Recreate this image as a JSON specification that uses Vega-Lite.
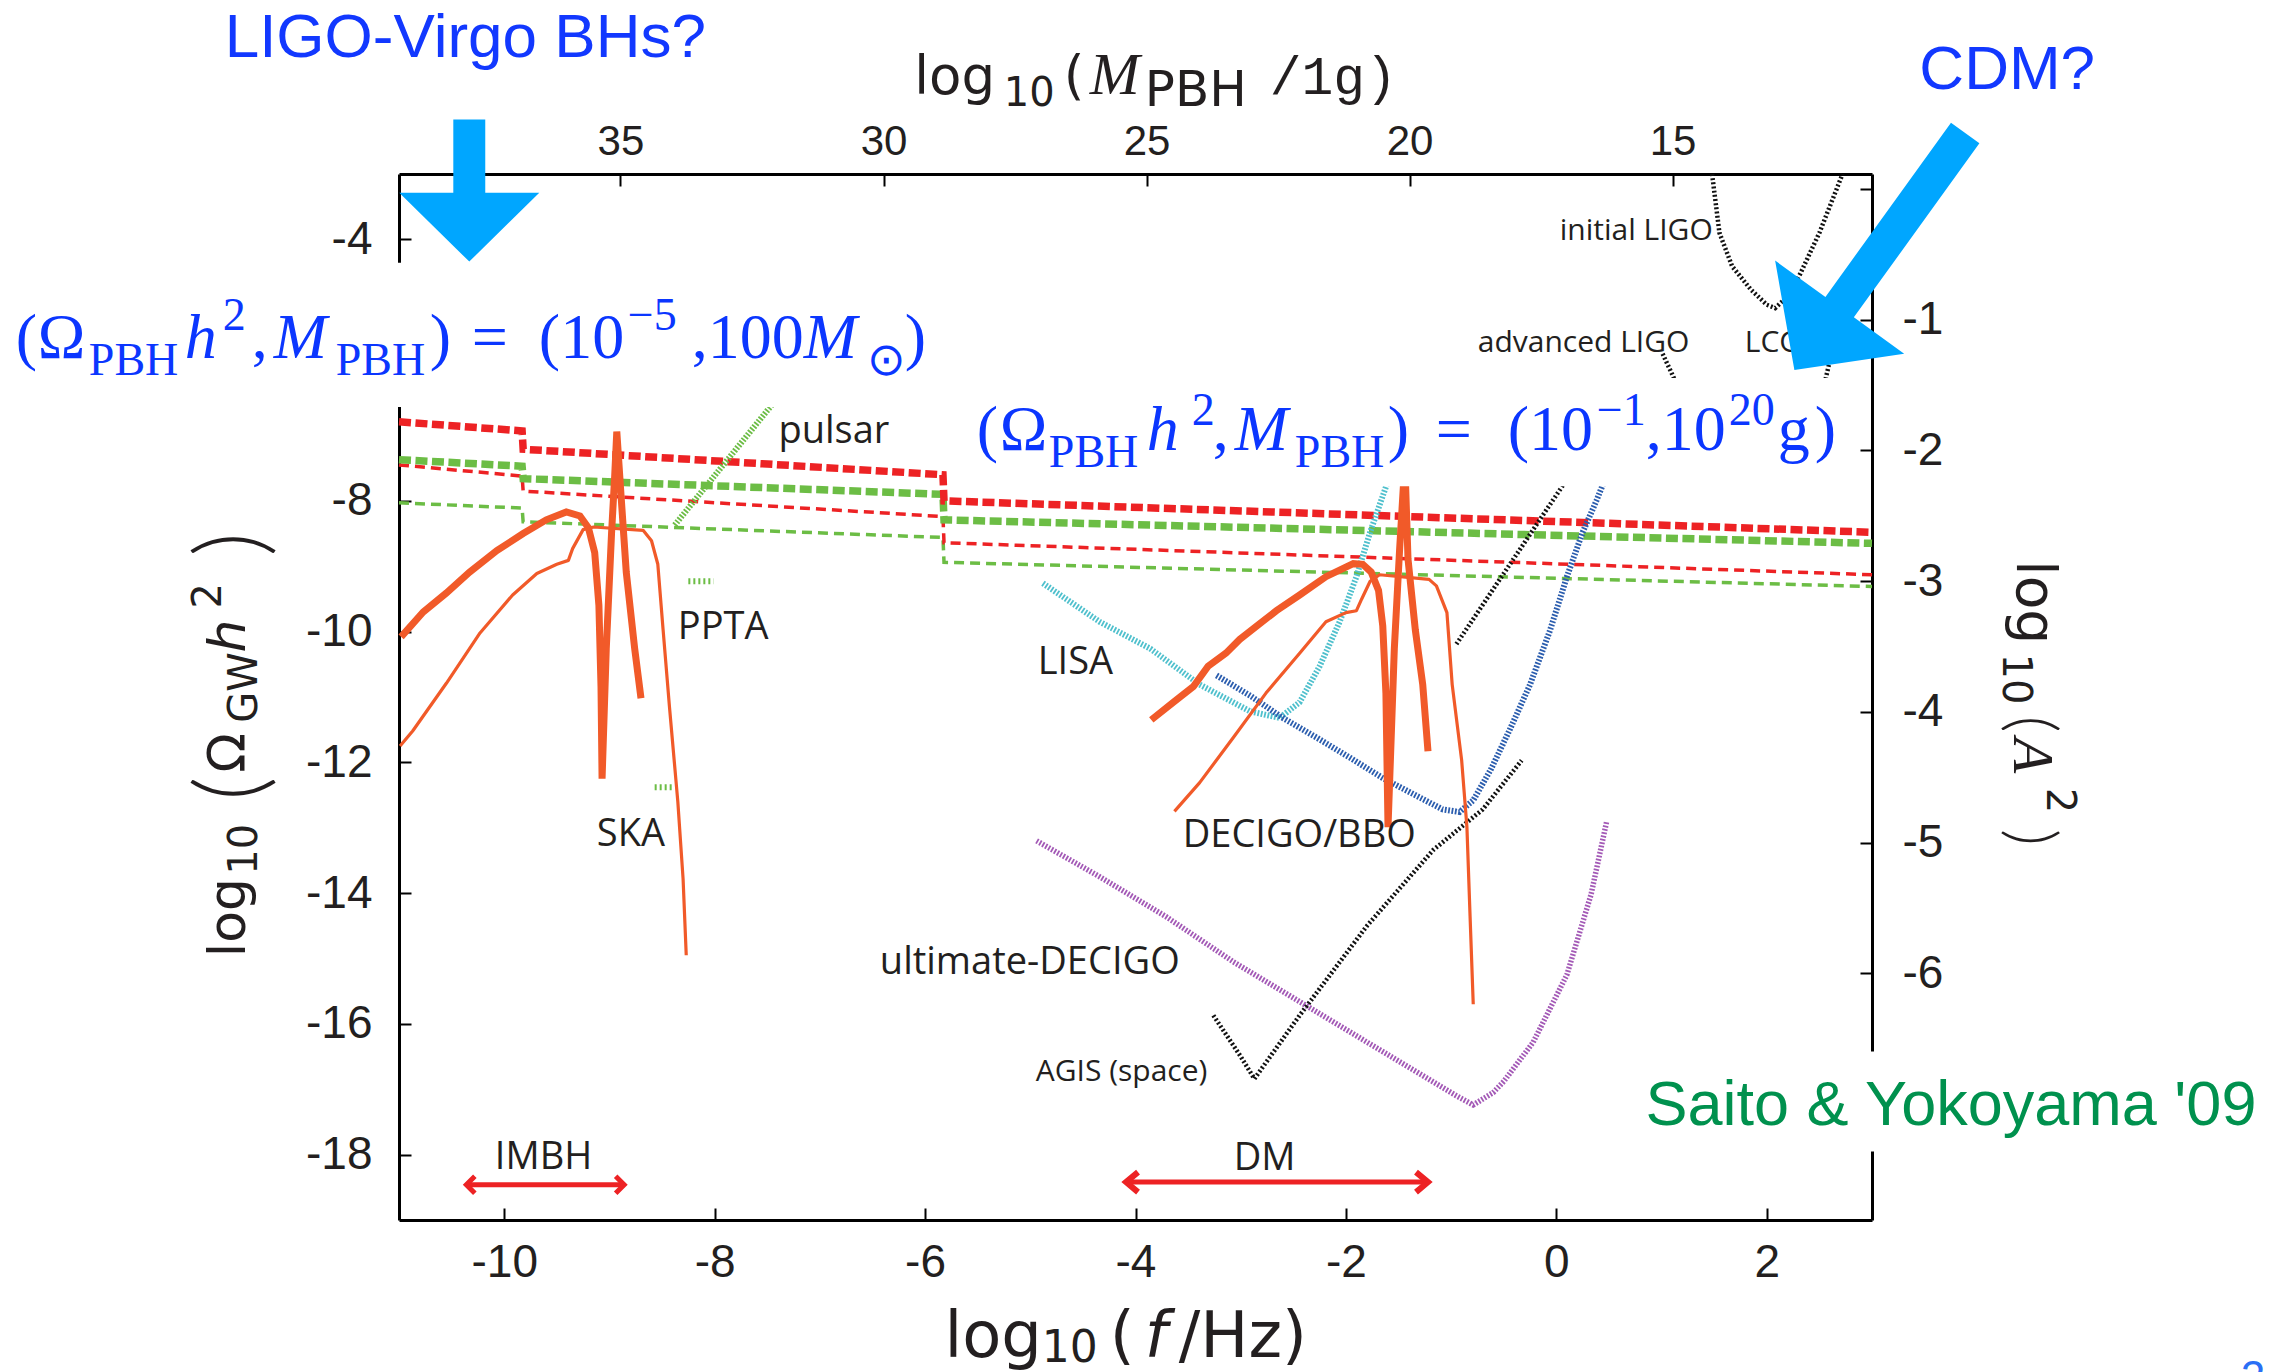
{
"$schema": "https://vega.github.io/schema/vega-lite/v6.json",
"width": 1473, "height": 1046,
"autosize": {"type": "none"},
"padding": {"left": 399, "top": 174, "right": 410, "bottom": 152},
"background": "white",
"config": {"view": {"stroke": null}},
"datasets": {
"tr": [{"f":-11,"o":-6.79},{"f":-9.83,"o":-6.93},{"f":-9.82,"o":-7.21},{"f":-5.83,"o":-7.6},{"f":-5.82,"o":-8.0},{"f":3,"o":-8.48}],
"tg": [{"f":-11,"o":-7.37},{"f":-9.83,"o":-7.47},{"f":-9.82,"o":-7.66},{"f":-5.83,"o":-7.9},{"f":-5.82,"o":-8.29},{"f":3,"o":-8.65}],
"nr": [{"f":-11,"o":-7.45},{"f":-9.83,"o":-7.62},{"f":-9.82,"o":-7.85},{"f":-5.83,"o":-8.24},{"f":-5.82,"o":-8.64},{"f":3,"o":-9.13}],
"ng": [{"f":-11,"o":-8.03},{"f":-9.83,"o":-8.11},{"f":-9.82,"o":-8.32},{"f":-5.83,"o":-8.56},{"f":-5.82,"o":-8.94},{"f":3,"o":-9.31}],
"pul": [{"f":-8.38,"o":-8.37},{"f":-7.4,"o":-6.42}],
"ppta": [{"f":-8.25,"o":-9.23},{"f":-8.01,"o":-9.23}],
"ska": [{"f":-8.57,"o":-12.38},{"f":-8.38,"o":-12.38}],
"ot1": [{"f":-10.98,"o":-10.08},{"f":-10.77,"o":-9.7},{"f":-10.55,"o":-9.41},{"f":-10.33,"o":-9.09},{"f":-10.07,"o":-8.76},{"f":-9.82,"o":-8.5},{"f":-9.6,"o":-8.29},{"f":-9.41,"o":-8.17},{"f":-9.28,"o":-8.23},{"f":-9.2,"o":-8.41},{"f":-9.14,"o":-8.79},{"f":-9.1,"o":-9.6},{"f":-9.08,"o":-10.84},{"f":-9.07,"o":-12.25},{"f":-9.03,"o":-10.26},{"f":-8.98,"o":-8.5},{"f":-8.95,"o":-7.62},{"f":-8.93,"o":-6.94},{"f":-8.89,"o":-7.91},{"f":-8.84,"o":-9.09},{"f":-8.76,"o":-10.26},{"f":-8.7,"o":-11.02}],
"on1": [{"f":-10.99,"o":-11.75},{"f":-10.87,"o":-11.52},{"f":-10.55,"o":-10.79},{"f":-10.23,"o":-10.02},{"f":-9.92,"o":-9.44},{"f":-9.69,"o":-9.11},{"f":-9.5,"o":-8.97},{"f":-9.39,"o":-8.91},{"f":-9.35,"o":-8.73},{"f":-9.25,"o":-8.44},{"f":-9.15,"o":-8.4},{"f":-8.68,"o":-8.45},{"f":-8.6,"o":-8.61},{"f":-8.54,"o":-8.97},{"f":-8.49,"o":-9.97},{"f":-8.43,"o":-11.14},{"f":-8.35,"o":-12.6},{"f":-8.3,"o":-13.78},{"f":-8.27,"o":-14.95}],
"ot2": [{"f":-3.85,"o":-11.35},{"f":-3.64,"o":-11.08},{"f":-3.45,"o":-10.84},{"f":-3.31,"o":-10.53},{"f":-3.14,"o":-10.33},{"f":-3.01,"o":-10.12},{"f":-2.82,"o":-9.88},{"f":-2.66,"o":-9.68},{"f":-2.44,"o":-9.44},{"f":-2.19,"o":-9.16},{"f":-1.93,"o":-8.96},{"f":-1.84,"o":-8.97},{"f":-1.76,"o":-9.09},{"f":-1.69,"o":-9.37},{"f":-1.65,"o":-9.91},{"f":-1.62,"o":-10.94},{"f":-1.6,"o":-12.99},{"f":-1.54,"o":-10.26},{"f":-1.49,"o":-8.75},{"f":-1.44,"o":-7.4},{"f":-1.41,"o":-8.89},{"f":-1.34,"o":-9.98},{"f":-1.27,"o":-10.81},{"f":-1.22,"o":-11.83}],
"on2": [{"f":-3.63,"o":-12.75},{"f":-3.39,"o":-12.31},{"f":-3.07,"o":-11.62},{"f":-2.76,"o":-10.94},{"f":-2.44,"o":-10.33},{"f":-2.19,"o":-9.85},{"f":-2.0,"o":-9.71},{"f":-1.9,"o":-9.68},{"f":-1.85,"o":-9.5},{"f":-1.77,"o":-9.23},{"f":-1.68,"o":-9.13},{"f":-1.21,"o":-9.2},{"f":-1.14,"o":-9.3},{"f":-1.04,"o":-9.71},{"f":-0.99,"o":-10.81},{"f":-0.9,"o":-11.97},{"f":-0.85,"o":-12.99},{"f":-0.82,"o":-14.36},{"f":-0.79,"o":-15.7}],
"lisa": [{"f":-4.88,"o":-9.26},{"f":-4.34,"o":-9.85},{"f":-3.86,"o":-10.26},{"f":-3.39,"o":-10.81},{"f":-2.91,"o":-11.22},{"f":-2.63,"o":-11.32},{"f":-2.44,"o":-11.08},{"f":-2.25,"o":-10.53},{"f":-2.06,"o":-9.85},{"f":-1.9,"o":-9.16},{"f":-1.77,"o":-8.48},{"f":-1.58,"o":-7.6}],
"decigo": [{"f":-3.23,"o":-10.67},{"f":-2.91,"o":-10.98},{"f":-2.6,"o":-11.32},{"f":-2.28,"o":-11.62},{"f":-1.96,"o":-11.93},{"f":-1.65,"o":-12.24},{"f":-1.33,"o":-12.51},{"f":-1.08,"o":-12.72},{"f":-0.92,"o":-12.76},{"f":-0.79,"o":-12.58},{"f":-0.62,"o":-12.1},{"f":-0.44,"o":-11.49},{"f":-0.25,"o":-10.81},{"f":-0.06,"o":-9.98},{"f":0.1,"o":-9.16},{"f":0.25,"o":-8.48},{"f":0.38,"o":-8.0},{"f":0.48,"o":-7.6}],
"udecigo": [{"f":-4.94,"o":-13.2},{"f":-4.34,"o":-13.75},{"f":-3.71,"o":-14.36},{"f":-3.07,"o":-15.05},{"f":-2.44,"o":-15.66},{"f":-1.8,"o":-16.28},{"f":-1.23,"o":-16.83},{"f":-0.95,"o":-17.1},{"f":-0.79,"o":-17.24},{"f":-0.6,"o":-17.05},{"f":-0.5,"o":-16.88},{"f":-0.22,"o":-16.28},{"f":0.1,"o":-15.25},{"f":0.33,"o":-14.02},{"f":0.48,"o":-12.89}],
"bl1": [{"f":-0.95,"o":-10.19},{"f":0.13,"o":-7.6}],
"agis": [{"f":-3.26,"o":-15.87},{"f":-3.0,"o":-16.5},{"f":-2.87,"o":-16.84},{"f":-2.44,"o":-15.87},{"f":-1.8,"o":-14.5},{"f":-1.17,"o":-13.34},{"f":-0.7,"o":-12.72},{"f":-0.33,"o":-11.97}],
"iligo": [{"f":1.48,"o":-3.0},{"f":1.55,"o":-3.9},{"f":1.67,"o":-4.41},{"f":1.85,"o":-4.77},{"f":2.0,"o":-5.0},{"f":2.08,"o":-5.05},{"f":2.2,"o":-4.87},{"f":2.32,"o":-4.52},{"f":2.5,"o":-3.9},{"f":2.72,"o":-3.0}],
"aligo": [{"f":1.01,"o":-5.75},{"f":1.14,"o":-6.2}],
"lcgt": [{"f":2.55,"o":-6.2},{"f":2.65,"o":-5.5}],
"redarrow": [{"f":-10.36,"f2":-8.86,"o":-18.46},{"f":-4.09,"f2":-1.22,"o":-18.42}],
"headRs": [{"f":-8.86,"o":-18.46}],
"headLs": [{"f":-10.36,"o":-18.46}],
"headRb": [{"f":-1.22,"o":-18.42}],
"headLb": [{"f":-4.09,"o":-18.42}],
"ligoarrow": [{"f":-10.332,"o":-3.254}],
"cdmarrow": [{"f":3.074,"o":-4.185}],
"boxes": [{"f":-14.8,"f2":-5.86,"o":-4.358,"o2":-6.565},{"f":-5.623,"f2":2.788,"o":-6.121,"o2":-7.776},{"f":0.79,"f2":6.9,"o":-16.421,"o2":-17.954}],
"lab38": [{"t":"pulsar","f":-7.394,"o":-7.117},{"t":"PPTA","f":-8.35,"o":-10.106},{"t":"SKA","f":-9.12,"o":-13.279},{"t":"LISA","f":-4.929,"o":-10.643},{"t":"DECIGO/BBO","f":-3.551,"o":-13.294},{"t":"ultimate-DECIGO","f":-6.43,"o":-15.241},{"t":"IMBH","f":-10.089,"o":-18.215},{"t":"DM","f":-3.066,"o":-18.231}],
"lab30": [{"t":"initial LIGO","f":0.032,"o":-4.006},{"t":"advanced LIGO","f":-0.747,"o":-5.722},{"t":"LCGT","f":1.791,"o":-5.722},{"t":"AGIS (space)","f":-4.948,"o":-16.881}],
"fmain": [{"t":"(","f":-14.642,"o":-5.814},{"t":"Ω","f":-14.433,"o":-5.814},{"t":",","f":-12.399,"o":-5.814},{"t":")","f":-10.708,"o":-5.814},{"t":"=","f":-10.308,"o":-5.814},{"t":"(10","f":-9.671,"o":-5.814},{"t":",100","f":-8.217,"o":-5.814},{"t":")","f":-6.193,"o":-5.814},{"t":"(","f":-5.508,"o":-7.224},{"t":"Ω","f":-5.29,"o":-7.224},{"t":",","f":-3.265,"o":-7.224},{"t":")","f":-1.602,"o":-7.224},{"t":"=","f":-1.146,"o":-7.224},{"t":"(10","f":-0.462,"o":-7.224},{"t":",10","f":0.85,"o":-7.224},{"t":"g","f":2.105,"o":-7.224},{"t":")","f":2.456,"o":-7.224}],
"fital": [{"t":"h","f":-13.036,"o":-5.814},{"t":"M","f":-12.19,"o":-5.814},{"t":"M","f":-7.153,"o":-5.814},{"t":"h","f":-3.893,"o":-7.224},{"t":"M","f":-3.056,"o":-7.224}],
"fsub": [{"t":"PBH","f":-13.948,"o":-6.075},{"t":"PBH","f":-11.601,"o":-6.075},{"t":"⊙","f":-6.554,"o":-6.075},{"t":"PBH","f":-4.824,"o":-7.485},{"t":"PBH","f":-2.486,"o":-7.485}],
"fsup": [{"t":"2","f":-12.675,"o":-5.385},{"t":"−5","f":-8.825,"o":-5.385},{"t":"2","f":-3.465,"o":-6.841},{"t":"−1","f":0.385,"o":-6.841},{"t":"20","f":1.639,"o":-6.841}],
"blue62": [{"t":"LIGO-Virgo BHs?","f":-10.37,"o":-1.216},{"t":"CDM?","f":4.285,"o":-1.706}],
"saito": [{"t":"Saito & Yokoyama '09","f":0.847,"o":-17.54}],
"page": [{"t":"2","f":6.505,"o":-21.63}],
"tt_top": [{"t":"log","f":-6.103,"o":-1.783},{"t":"(","f":-4.682,"o":-1.783}],
"tt_sub": [{"t":"10","f":-5.252,"o":-1.962}],
"tt_subP": [{"t":"PBH","f":-3.911,"o":-1.967}],
"tt_topM": [{"t":"M","f":-4.435,"o":-1.783}],
"tt_mono": [{"t":"/1g)","f":-2.724,"o":-1.783}],
"tt_bot": [{"t":"log","f":-5.816,"o":-21.096},{"t":"(","f":-4.245,"o":-21.096},{"t":"/Hz)","f":-3.589,"o":-21.096}],
"tt_botsub": [{"t":"10","f":-4.891,"o":-21.173}],
"tt_botf": [{"t":"f","f":-3.912,"o":-21.096}],
"tt_left": [{"t":"log","f":-12.465,"o":-14.98},{"t":"Ω","f":-12.465,"o":-12.16}],
"tt_lefth": [{"t":"h","f":-12.465,"o":-10.321}],
"tt_leftsub": [{"t":"10","f":-12.351,"o":-13.719},{"t":"GW","f":-12.351,"o":-11.393},{"t":"2","f":-12.694,"o":-9.647}],
"tt_leftparen": [{"t":"(","f":-12.294,"o":-12.589},{"t":")","f":-12.294,"o":-8.849}],
"tt_right": [{"t":"log","f":4.376,"o":-8.91}],
"tt_rightsub": [{"t":"10","f":4.242,"o":-10.336},{"t":"2","f":4.661,"o":-12.39}],
"tt_rightA": [{"t":"A","f":4.347,"o":-11.624}],
"tt_rightparen": [{"t":"(","f":4.315,"o":-11.287},{"t":")","f":4.315,"o":-13.02}],
"ax2": [{"m":39.21,"a":0.113},{"m":11.21,"a":-7.887}]
},
"layer": [
{
"encoding": {
"x": {"field": "f", "type": "quantitative", "scale": {"domain": [-11, 3], "nice": false, "zero": false},
 "axis": {"orient": "bottom", "values": [-10,-8,-6,-4,-2,0,2], "title": null, "grid": false, "labelExpr": "toString(datum.value)", "labelFont": "Liberation Sans", "labelFontSize": 46, "labelColor": "#231F20", "labelPadding": 32, "labelOverlap": false, "labelFlush": false, "tickSize": -12, "tickWidth": 2, "tickColor": "#000", "domainColor": "#000", "domainWidth": 3}},
"y": {"field": "o", "type": "quantitative", "scale": {"domain": [-19, -3], "nice": false, "zero": false},
 "axis": {"orient": "left", "values": [-18,-16,-14,-12,-10,-8,-6,-4], "title": null, "grid": false, "labelExpr": "toString(datum.value)", "labelFont": "Liberation Sans", "labelFontSize": 46, "labelColor": "#231F20", "labelPadding": 39, "labelOverlap": false, "labelFlush": false, "tickSize": -12, "tickWidth": 2, "tickColor": "#000", "domainColor": "#000", "domainWidth": 3}}
},
"layer": [
{"data": {"name": "ng"}, "mark": {"type": "line", "color": "#6CBD45", "strokeWidth": 3.5, "strokeDash": [10, 6]}},
{"data": {"name": "nr"}, "mark": {"type": "line", "color": "#ED2224", "strokeWidth": 3.5, "strokeDash": [10, 6]}},
{"data": {"name": "tg"}, "mark": {"type": "line", "color": "#6CBD45", "strokeWidth": 7.5, "strokeDash": [12, 4.5]}},
{"data": {"name": "tr"}, "mark": {"type": "line", "color": "#ED2224", "strokeWidth": 7.5, "strokeDash": [12, 4.5]}},
{"data": {"name": "pul"}, "mark": {"type": "line", "color": "#6CBD45", "strokeWidth": 6, "strokeDash": [1.8, 1.6]}},
{"data": {"name": "ppta"}, "mark": {"type": "line", "color": "#6CBD45", "strokeWidth": 6, "strokeDash": [2, 3]}},
{"data": {"name": "ska"}, "mark": {"type": "line", "color": "#6CBD45", "strokeWidth": 6, "strokeDash": [2, 3]}},
{"data": {"name": "lisa"}, "mark": {"type": "line", "color": "#4FC0CD", "strokeWidth": 6, "strokeDash": [1.8, 1.6]}},
{"data": {"name": "decigo"}, "mark": {"type": "line", "color": "#2B5DAE", "strokeWidth": 6, "strokeDash": [1.8, 1.6]}},
{"data": {"name": "udecigo"}, "mark": {"type": "line", "color": "#A359B6", "strokeWidth": 5.5, "strokeDash": [1.8, 1.6]}},
{"data": {"name": "bl1"}, "mark": {"type": "line", "color": "#111111", "strokeWidth": 4.5, "strokeDash": [2, 2.2]}},
{"data": {"name": "agis"}, "mark": {"type": "line", "color": "#111111", "strokeWidth": 4.5, "strokeDash": [2, 2.2]}},
{"data": {"name": "iligo"}, "mark": {"type": "line", "color": "#111111", "strokeWidth": 4.5, "strokeDash": [2, 2.2]}},
{"data": {"name": "aligo"}, "mark": {"type": "line", "color": "#111111", "strokeWidth": 4.5, "strokeDash": [2, 2.2]}},
{"data": {"name": "lcgt"}, "mark": {"type": "line", "color": "#111111", "strokeWidth": 4.5, "strokeDash": [2, 2.2]}},
{"data": {"name": "on1"}, "mark": {"type": "line", "color": "#F15A29", "strokeWidth": 3.2, "strokeJoin": "round"}},
{"data": {"name": "on2"}, "mark": {"type": "line", "color": "#F15A29", "strokeWidth": 3.2, "strokeJoin": "round"}},
{"data": {"name": "ot1"}, "mark": {"type": "line", "color": "#F15A29", "strokeWidth": 7}},
{"data": {"name": "ot2"}, "mark": {"type": "line", "color": "#F15A29", "strokeWidth": 7}},
{"data": {"name": "redarrow"}, "mark": {"type": "rule", "color": "#ED2224", "strokeWidth": 5}, "encoding": {"x2": {"field": "f2"}}},
{"data": {"name": "headRs"}, "mark": {"type": "point", "shape": "M-1,-1L0,0L-1,1", "size": 289, "filled": false, "stroke": "#ED2224", "strokeWidth": 5, "opacity": 1}},
{"data": {"name": "headLs"}, "mark": {"type": "point", "shape": "M1,-1L0,0L1,1", "size": 289, "filled": false, "stroke": "#ED2224", "strokeWidth": 5, "opacity": 1}},
{"data": {"name": "headRb"}, "mark": {"type": "point", "shape": "M-1.2,-1L0,0L-1.2,1", "size": 400, "filled": false, "stroke": "#ED2224", "strokeWidth": 6, "opacity": 1}},
{"data": {"name": "headLb"}, "mark": {"type": "point", "shape": "M1.2,-1L0,0L1.2,1", "size": 400, "filled": false, "stroke": "#ED2224", "strokeWidth": 6, "opacity": 1}},
{"data": {"name": "lab38"}, "mark": {"type": "text", "font": "Open Sans", "fontSize": 38, "align": "left", "baseline": "alphabetic", "color": "#231F20"}, "encoding": {"text": {"field": "t"}}},
{"data": {"name": "lab30"}, "mark": {"type": "text", "font": "Open Sans", "fontSize": 30, "align": "left", "baseline": "alphabetic", "color": "#231F20"}, "encoding": {"text": {"field": "t"}}},
{"data": {"name": "boxes"}, "mark": {"type": "rect", "color": "white", "opacity": 1}, "encoding": {"x2": {"field": "f2"}, "y2": {"field": "o2"}}},
{"data": {"name": "fmain"}, "mark": {"type": "text", "font": "Liberation Serif", "fontSize": 64, "align": "left", "baseline": "alphabetic", "color": "#0B36FF"}, "encoding": {"text": {"field": "t"}}},
{"data": {"name": "fital"}, "mark": {"type": "text", "font": "Liberation Serif", "fontStyle": "italic", "fontSize": 64, "align": "left", "baseline": "alphabetic", "color": "#0B36FF"}, "encoding": {"text": {"field": "t"}}},
{"data": {"name": "fsub"}, "mark": {"type": "text", "font": "Liberation Serif", "fontSize": 46, "align": "left", "baseline": "alphabetic", "color": "#0B36FF"}, "encoding": {"text": {"field": "t"}}},
{"data": {"name": "fsup"}, "mark": {"type": "text", "font": "Liberation Serif", "fontSize": 46, "align": "left", "baseline": "alphabetic", "color": "#0B36FF"}, "encoding": {"text": {"field": "t"}}},
{"data": {"name": "blue62"}, "mark": {"type": "text", "font": "Liberation Sans", "fontSize": 62, "align": "center", "baseline": "alphabetic", "color": "#1238FF"}, "encoding": {"text": {"field": "t"}}},
{"data": {"name": "saito"}, "mark": {"type": "text", "font": "Liberation Sans", "fontSize": 63, "align": "left", "baseline": "alphabetic", "color": "#00914E"}, "encoding": {"text": {"field": "t"}}},
{"data": {"name": "page"}, "mark": {"type": "text", "font": "Liberation Sans", "fontSize": 44, "align": "left", "baseline": "alphabetic", "color": "#2A6FF5"}, "encoding": {"text": {"field": "t"}}},
{"data": {"name": "ligoarrow"}, "mark": {"type": "point", "shape": "M-0.225,-1L0.225,-1L0.225,0.03L0.986,0.03L0,1L-0.986,0.03L-0.225,0.03Z", "size": 20164, "filled": true, "color": "#00A6FF", "opacity": 1, "strokeWidth": 0}},
{"data": {"name": "cdmarrow"}, "mark": {"type": "point", "shape": "M-0.12,-1L0.12,-1L0.12,0.47L0.545,0.47L0,1L-0.545,0.47L-0.12,0.47Z", "size": 85264, "angle": 35.8, "filled": true, "color": "#00A6FF", "opacity": 1, "strokeWidth": 0}},
{"data": {"name": "tt_top"}, "mark": {"type": "text", "font": "DejaVu Sans", "fontSize": 53, "align": "left", "baseline": "alphabetic", "color": "#231F20"}, "encoding": {"text": {"field": "t"}}},
{"data": {"name": "tt_sub"}, "mark": {"type": "text", "font": "DejaVu Sans", "fontSize": 40, "align": "left", "baseline": "alphabetic", "color": "#231F20"}, "encoding": {"text": {"field": "t"}}},
{"data": {"name": "tt_subP"}, "mark": {"type": "text", "font": "DejaVu Sans", "fontSize": 50, "align": "left", "baseline": "alphabetic", "color": "#231F20"}, "encoding": {"text": {"field": "t"}}},
{"data": {"name": "tt_topM"}, "mark": {"type": "text", "font": "Liberation Serif", "fontStyle": "italic", "fontSize": 60, "align": "left", "baseline": "alphabetic", "color": "#231F20"}, "encoding": {"text": {"field": "t"}}},
{"data": {"name": "tt_mono"}, "mark": {"type": "text", "font": "Liberation Mono", "fontSize": 53, "align": "left", "baseline": "alphabetic", "color": "#231F20"}, "encoding": {"text": {"field": "t"}}},
{"data": {"name": "tt_bot"}, "mark": {"type": "text", "font": "DejaVu Sans", "fontSize": 64, "align": "left", "baseline": "alphabetic", "color": "#231F20"}, "encoding": {"text": {"field": "t"}}},
{"data": {"name": "tt_botsub"}, "mark": {"type": "text", "font": "DejaVu Sans", "fontSize": 44, "align": "left", "baseline": "alphabetic", "color": "#231F20"}, "encoding": {"text": {"field": "t"}}},
{"data": {"name": "tt_botf"}, "mark": {"type": "text", "font": "DejaVu Sans", "fontStyle": "italic", "fontSize": 64, "align": "left", "baseline": "alphabetic", "color": "#231F20"}, "encoding": {"text": {"field": "t"}}},
{"data": {"name": "tt_left"}, "mark": {"type": "text", "font": "DejaVu Sans", "fontSize": 52, "angle": 270, "align": "left", "baseline": "alphabetic", "color": "#231F20"}, "encoding": {"text": {"field": "t"}}},
{"data": {"name": "tt_lefth"}, "mark": {"type": "text", "font": "DejaVu Sans", "fontStyle": "italic", "fontSize": 52, "angle": 270, "align": "left", "baseline": "alphabetic", "color": "#231F20"}, "encoding": {"text": {"field": "t"}}},
{"data": {"name": "tt_leftsub"}, "mark": {"type": "text", "font": "DejaVu Sans", "fontSize": 40, "angle": 270, "align": "left", "baseline": "alphabetic", "color": "#231F20"}, "encoding": {"text": {"field": "t"}}},
{"data": {"name": "tt_leftparen"}, "mark": {"type": "text", "font": "Lato", "fontWeight": 300, "fontSize": 95, "angle": 270, "align": "left", "baseline": "alphabetic", "color": "#231F20"}, "encoding": {"text": {"field": "t"}}},
{"data": {"name": "tt_right"}, "mark": {"type": "text", "font": "DejaVu Sans", "fontSize": 55, "angle": 90, "align": "left", "baseline": "alphabetic", "color": "#231F20"}, "encoding": {"text": {"field": "t"}}},
{"data": {"name": "tt_rightsub"}, "mark": {"type": "text", "font": "DejaVu Sans", "fontSize": 40, "angle": 90, "align": "left", "baseline": "alphabetic", "color": "#231F20"}, "encoding": {"text": {"field": "t"}}},
{"data": {"name": "tt_rightA"}, "mark": {"type": "text", "font": "Liberation Serif", "fontStyle": "italic", "fontSize": 58, "angle": 90, "align": "left", "baseline": "alphabetic", "color": "#231F20"}, "encoding": {"text": {"field": "t"}}},
{"data": {"name": "tt_rightparen"}, "mark": {"type": "text", "font": "Lato", "fontWeight": 300, "fontSize": 65, "angle": 90, "align": "left", "baseline": "alphabetic", "color": "#231F20"}, "encoding": {"text": {"field": "t"}}}
]
},
{
"data": {"name": "ax2"},
"mark": {"type": "point", "opacity": 0},
"encoding": {
"x": {"field": "m", "type": "quantitative", "scale": {"domain": [11.21, 39.21], "reverse": true, "nice": false, "zero": false},
 "axis": {"orient": "top", "values": [35,30,25,20,15], "title": null, "grid": false, "labelFont": "Liberation Sans", "labelFontSize": 42, "labelColor": "#231F20", "labelPadding": 32, "labelBaseline": "alphabetic", "labelOverlap": false, "labelFlush": false, "tickSize": -12, "tickWidth": 2, "tickColor": "#000", "domainColor": "#000", "domainWidth": 3}},
"y": {"field": "a", "type": "quantitative", "scale": {"domain": [-7.887, 0.113], "nice": false, "zero": false},
 "axis": {"orient": "right", "values": [0,-1,-2,-3,-4,-5,-6,-7], "title": null, "grid": false, "labelExpr": "datum.value <= -1 && datum.value >= -6 ? toString(datum.value) : ''", "labelFont": "Liberation Sans", "labelFontSize": 46, "labelColor": "#231F20", "labelPadding": 42, "labelOverlap": false, "labelFlush": false, "tickSize": -12, "tickWidth": 2, "tickColor": "#000", "domainColor": "#000", "domainWidth": 3}}
}
}
],
"resolve": {"scale": {"x": "independent", "y": "independent"}}
}
